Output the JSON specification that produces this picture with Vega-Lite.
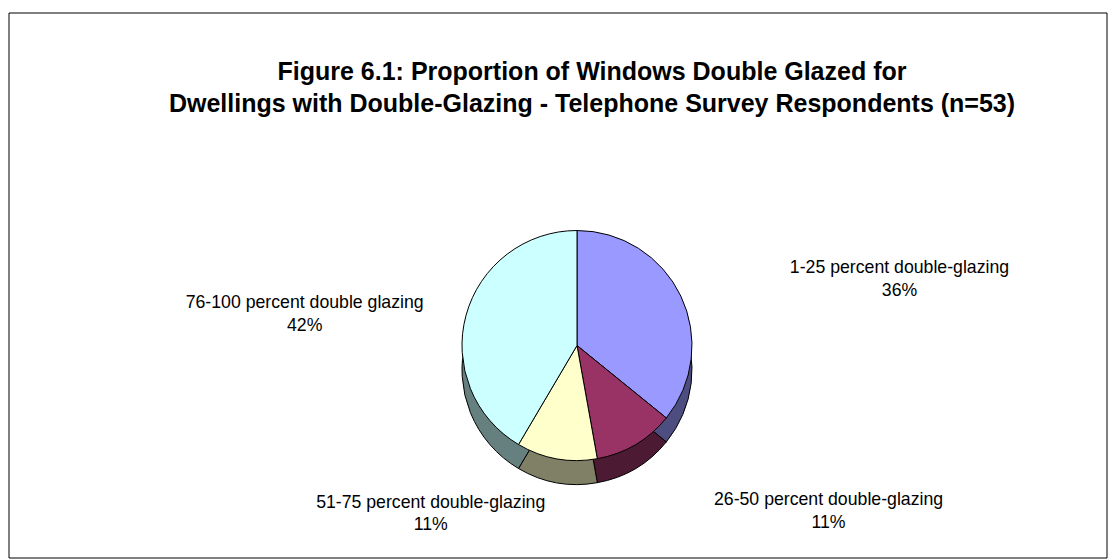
{
  "$schema": "https://vega.github.io/schema/vega-lite/v6.json",
  "width": 1116,
  "height": 559,
  "autosize": {"type": "fit", "contains": "padding"},
  "padding": {"left": 8, "top": 12, "right": 8, "bottom": 0},
  "background": "white",
  "title": {
    "text": ["Figure 6.1: Proportion of Windows Double Glazed for", "Dwellings with Double-Glazing - Telephone Survey Respondents (n=53)"],
    "font": "Liberation Sans",
    "fontSize": 25,
    "fontWeight": "bold",
    "color": "black",
    "lineHeight": 32,
    "anchor": "middle",
    "offset": -104,
    "dx": 34
  },
  "data": {
    "values": [
      {"category": "1-25 percent double-glazing", "n": 19, "pct": 36},
      {"category": "26-50 percent double-glazing", "n": 6, "pct": 11},
      {"category": "51-75 percent double-glazing", "n": 6, "pct": 11},
      {"category": "76-100 percent double glazing", "n": 22, "pct": 42}
    ]
  },
  "transform": [
    {"stack": "n", "groupby": [], "sort": [{"field": "category", "order": "ascending"}], "as": ["t0", "t1"]},
    {"calculate": "(datum.t0 + datum.t1) / 2", "as": "tm"},
    {"calculate": "datum.category + '\\n' + datum.pct + '%'", "as": "label"}
  ],
  "layer": [
    {
      "data": {"values": [{}]},
      "mark": {"type": "rect", "fill": "transparent", "stroke": "black", "strokeWidth": 1}
    },
    {
      "mark": {"type": "arc", "outerRadius": 115, "stroke": "black", "strokeWidth": 1, "x": {"expr": "width/2 + 19"}, "y": {"expr": "height/2 + 84"}},
      "encoding": {
        "theta": {"field": "t0", "type": "quantitative", "scale": {"domain": [0, 53]}},
        "theta2": {"field": "t1"},
        "color": {"field": "category", "type": "nominal", "legend": null,
          "scale": {"domain": ["1-25 percent double-glazing", "26-50 percent double-glazing", "51-75 percent double-glazing", "76-100 percent double glazing"],
                    "range": ["#4D4D80", "#4D1A33", "#808066", "#668080"]}}
      }
    },
    {
      "mark": {"type": "arc", "outerRadius": 115, "stroke": "black", "strokeWidth": 1, "x": {"expr": "width/2 + 19"}, "y": {"expr": "height/2 + 60"}},
      "encoding": {
        "theta": {"field": "t0", "type": "quantitative", "scale": {"domain": [0, 53]}},
        "theta2": {"field": "t1"},
        "color": {"field": "category", "type": "nominal", "legend": null,
          "scale": {"domain": ["1-25 percent double-glazing", "26-50 percent double-glazing", "51-75 percent double-glazing", "76-100 percent double glazing"],
                    "range": ["#9999FF", "#993366", "#FFFFCC", "#CCFFFF"]}}
      }
    },
    {
      "transform": [{"filter": {"field": "category", "oneOf": ["1-25 percent double-glazing", "26-50 percent double-glazing"]}}],
      "mark": {"type": "text", "radius": 180, "align": "center", "dx": 160, "font": "Liberation Sans", "fontSize": 17.7, "color": "black", "lineBreak": "\n", "lineHeight": 22.5, "x": {"expr": "width/2 + 19"}, "y": {"expr": "height/2 + 60"}},
      "encoding": {
        "theta": {"field": "tm", "type": "quantitative", "scale": {"domain": [0, 53]}},
        "text": {"field": "label", "type": "nominal"}
      }
    },
    {
      "transform": [{"filter": {"field": "category", "oneOf": ["51-75 percent double-glazing", "76-100 percent double glazing"]}}],
      "mark": {"type": "text", "radius": 160, "align": "center", "dx": -118, "font": "Liberation Sans", "fontSize": 17.7, "color": "black", "lineBreak": "\n", "lineHeight": 22.5, "x": {"expr": "width/2 + 19"}, "y": {"expr": "height/2 + 60"}},
      "encoding": {
        "theta": {"field": "tm", "type": "quantitative", "scale": {"domain": [0, 53]}},
        "text": {"field": "label", "type": "nominal"}
      }
    }
  ],
  "resolve": {"scale": {"color": "independent"}},
  "config": {"view": {"stroke": null}}
}
